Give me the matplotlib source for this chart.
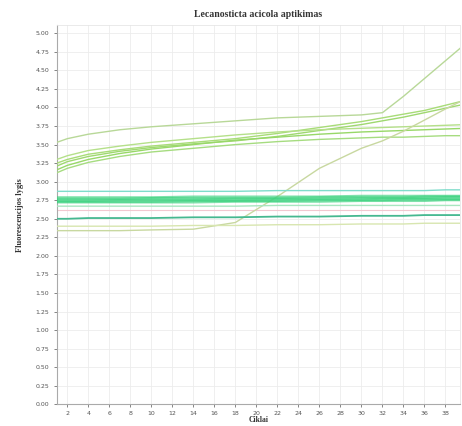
import matplotlib
matplotlib.use("Agg")
import matplotlib.pyplot as plt
import numpy as np

title = "Lecanosticta acicola aptikimas"
xlabel = "Ciklai"
ylabel = "Fluorescencijos lygis"

cycles = [1, 2, 4, 7, 10, 14, 18, 22, 26, 30, 32, 34, 36, 38, 40]

# upper (light green / yellow-green) curves
upper_A = [3.53, 3.58, 3.64, 3.70, 3.74, 3.78, 3.82, 3.86, 3.88, 3.90, 3.93, 4.15, 4.39, 4.63, 4.87]
upper_B = [3.25, 3.30, 3.37, 3.43, 3.48, 3.53, 3.58, 3.65, 3.73, 3.81, 3.86, 3.91, 3.96, 4.03, 4.10]
upper_C = [3.21, 3.27, 3.34, 3.41, 3.46, 3.51, 3.55, 3.61, 3.69, 3.77, 3.82, 3.87, 3.93, 3.99, 4.05]
upper_D = [3.30, 3.35, 3.42, 3.48, 3.53, 3.58, 3.63, 3.67, 3.70, 3.72, 3.73, 3.74, 3.75, 3.76, 3.77]
upper_E = [3.16, 3.22, 3.30, 3.38, 3.44, 3.50, 3.56, 3.60, 3.64, 3.67, 3.68, 3.69, 3.70, 3.71, 3.72]
upper_F = [3.12, 3.18, 3.26, 3.34, 3.40, 3.45, 3.50, 3.54, 3.57, 3.59, 3.60, 3.60, 3.61, 3.62, 3.62]
sigmoid = [2.34, 2.34, 2.34, 2.34, 2.35, 2.36, 2.45, 2.80, 3.18, 3.45, 3.55, 3.68, 3.83, 3.98, 4.12]

# green band curves
band_1 = [2.79, 2.79, 2.79, 2.79, 2.79, 2.80, 2.80, 2.80, 2.80, 2.81, 2.81, 2.81, 2.81, 2.81, 2.81]
band_2 = [2.77, 2.77, 2.77, 2.77, 2.78, 2.78, 2.78, 2.78, 2.79, 2.79, 2.79, 2.79, 2.80, 2.80, 2.80]
band_3 = [2.76, 2.76, 2.76, 2.76, 2.76, 2.76, 2.77, 2.77, 2.77, 2.78, 2.78, 2.78, 2.78, 2.79, 2.79]
band_4 = [2.74, 2.74, 2.74, 2.75, 2.75, 2.75, 2.75, 2.76, 2.76, 2.76, 2.77, 2.77, 2.77, 2.77, 2.77]
band_5 = [2.73, 2.73, 2.73, 2.73, 2.73, 2.74, 2.74, 2.74, 2.75, 2.75, 2.75, 2.76, 2.76, 2.76, 2.76]
band_6 = [2.72, 2.72, 2.72, 2.72, 2.72, 2.72, 2.73, 2.73, 2.73, 2.74, 2.74, 2.74, 2.74, 2.75, 2.75]
band_top = [2.87, 2.87, 2.87, 2.87, 2.87, 2.87, 2.87, 2.88, 2.88, 2.88, 2.88, 2.88, 2.88, 2.89, 2.89]
band_low = [2.67, 2.67, 2.67, 2.67, 2.67, 2.67, 2.67, 2.68, 2.68, 2.68, 2.68, 2.68, 2.68, 2.68, 2.68]
pink_line = [2.62, 2.62, 2.62, 2.62, 2.62, 2.62, 2.62, 2.62, 2.62, 2.62, 2.62, 2.62, 2.62, 2.62, 2.62]
mid_green = [2.50, 2.50, 2.51, 2.51, 2.51, 2.52, 2.52, 2.53, 2.53, 2.54, 2.54, 2.54, 2.55, 2.55, 2.55]
low_line = [2.40, 2.40, 2.40, 2.40, 2.40, 2.41, 2.41, 2.42, 2.42, 2.43, 2.43, 2.43, 2.44, 2.44, 2.44]

yticks = [i * 0.25 for i in range(21)]
xticks = list(range(2, 40, 2))

fig = plt.figure(figsize=(4.62, 4.26), dpi=100)
ax = fig.add_axes([0.123, 0.051, 0.873, 0.890])

for ys, c in [(upper_A, "#b8d898"), (upper_B, "#a8dc78"),
              (upper_C, "#9fd870"), (upper_D, "#b5e08a"),
              (upper_E, "#98d868"), (upper_F, "#a6dc80"),
              (sigmoid, "#c8d8a0")]:
    ax.plot(cycles, ys, color=c, lw=1.0, zorder=3)

for ys in [band_1, band_2, band_3, band_4, band_5, band_6]:
    ax.plot(cycles, ys, color="#3ad27e", lw=1.5, alpha=0.65, zorder=3)
ax.plot(cycles, band_top, color="#7fdccb", lw=1.0, zorder=3)
ax.plot(cycles, band_low, color="#a8e6c0", lw=1.0, zorder=3)
ax.plot(cycles, pink_line, color="#f2c8d0", lw=0.8, zorder=2)
ax.plot(cycles, mid_green, color="#45b890", lw=1.3, zorder=3)
ax.plot(cycles, low_line, color="#d8e6b0", lw=1.0, zorder=3)

ax.set_xlim(1, 39.4)
ax.set_ylim(0, 5.11)
ax.set_yticks(yticks)
ax.set_yticklabels([f"{v:.2f}" for v in yticks])
ax.set_xticks(xticks)
ax.set_xticklabels([str(v) for v in xticks])
ax.tick_params(axis="both", labelsize=4.5, colors="#555555", length=2, width=0.5)
ax.tick_params(axis="x", pad=2.5)
ax.grid(True, color="#ececec", lw=0.6, zorder=0)
for s in ["top", "right"]:
    ax.spines[s].set_color("#e6e6e6")
    ax.spines[s].set_linewidth(0.6)
for s in ["left", "bottom"]:
    ax.spines[s].set_color("#aaaaaa")
    ax.spines[s].set_linewidth(0.8)

ax.set_title(title, fontsize=7, fontweight="bold", family="Liberation Serif", color="#333333", pad=6)
ax.set_xlabel(xlabel, fontsize=5.5, fontweight="bold", family="Liberation Serif", color="#333333", labelpad=0.5)
ax.set_ylabel(ylabel, fontsize=6, fontweight="bold", family="Liberation Serif", color="#333333", labelpad=8)

fig.savefig("out.png", dpi=100)
